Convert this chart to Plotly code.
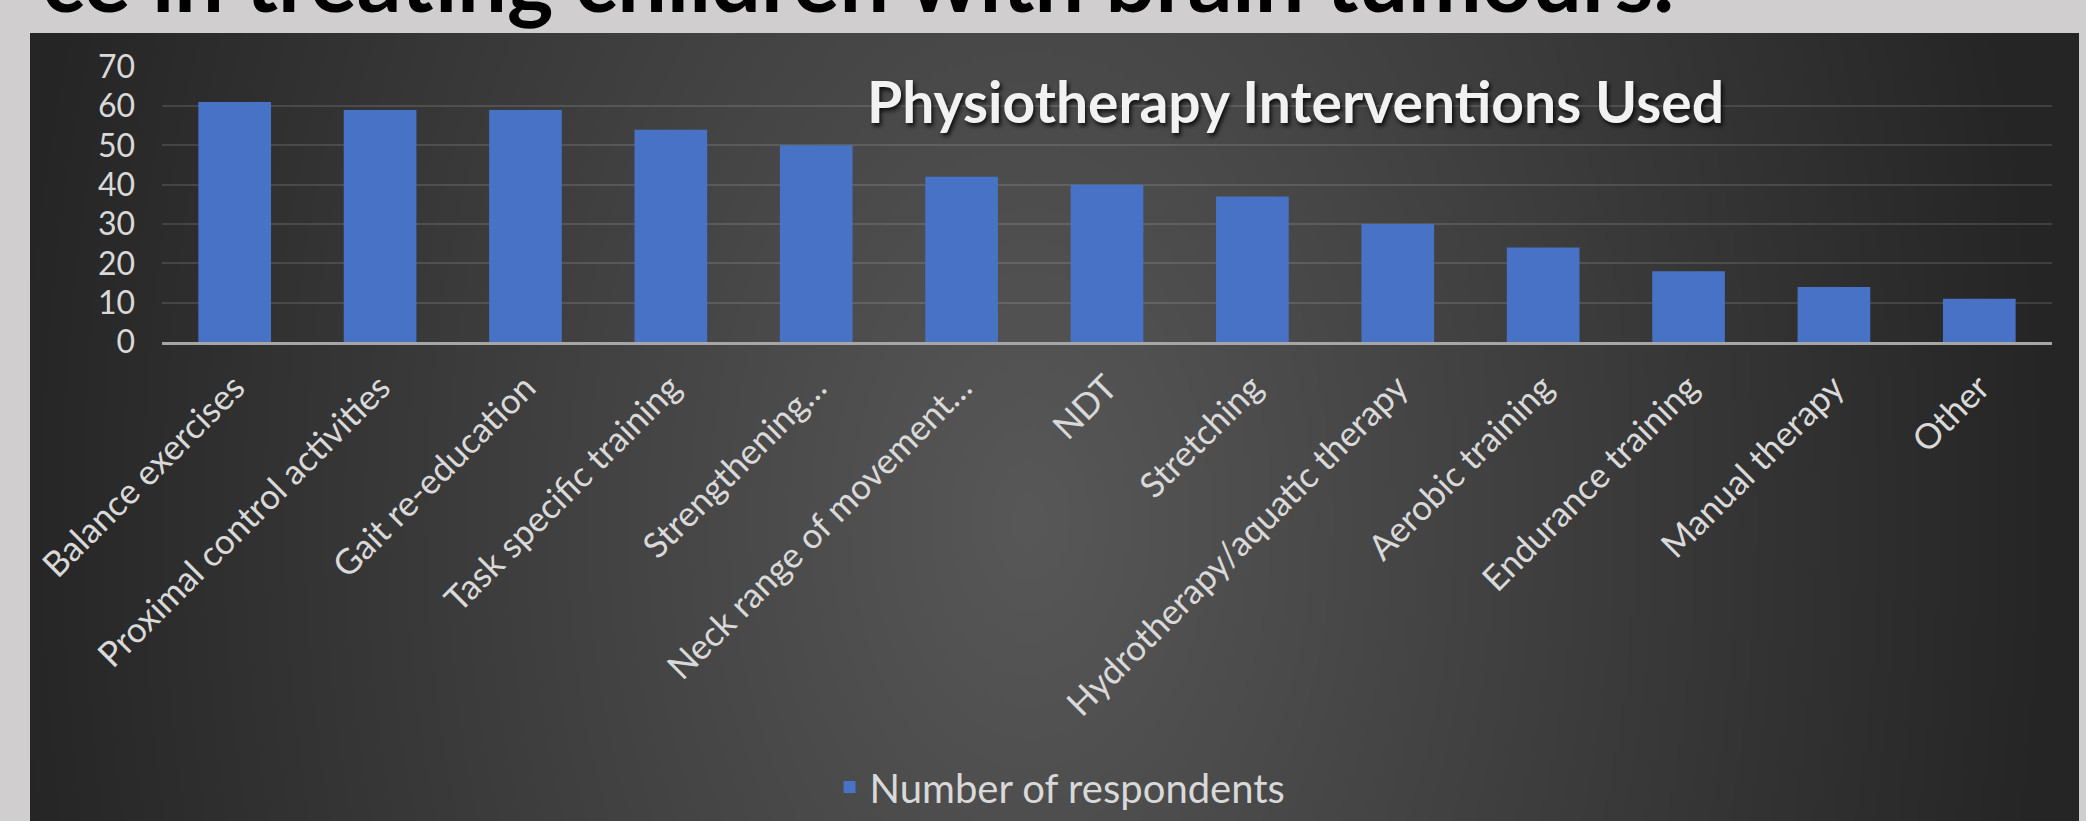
import base64
import struct
import zlib

import numpy as np
import plotly.graph_objects as go

# ---------------- data ----------------
categories = [
    "Balance exercises",
    "Proximal control activities",
    "Gait re-education",
    "Task specific training",
    "Strengthening…",
    "Neck range of movement…",
    "NDT",
    "Stretching",
    "Hydrotherapy/aquatic therapy",
    "Aerobic training",
    "Endurance training",
    "Manual therapy",
    "Other",
]
respondents = [61, 59, 59, 54, 50, 42, 40, 37, 30, 24, 18, 14, 11]
series_name = "Number of respondents"
chart_title = "Physiotherapy Interventions Used"
slide_title = "ce in treating children with brain tumours."
y_ticks = [0, 10, 20, 30, 40, 50, 60, 70]

# ---------------- geometry helpers ----------------
W, H = 2086, 821


def fx(px):
    return px / W


def fy(py):
    return 1 - py / H


# panel (dark chart area) in pixels
PX0, PX1, PY0, PY1 = 30, 2079, 33, 821


def png_gradient(w, h):
    """Radial dark-gray background, returned as a PNG data URI."""
    xs = PX0 + (np.arange(w) + 0.5) * (PX1 - PX0) / w
    ys = PY0 + (np.arange(h) + 0.5) * (PY1 - PY0) / h
    X, Y = np.meshgrid(xs, ys)
    cx, cy, a, b = 1030.0, 520.0, 1030.0, 1600.0
    t = np.sqrt(((X - cx) / a) ** 2 + ((Y - cy) / b) ** 2)
    t = np.clip(t, 0, 1)
    c0, c1 = 88.0, 37.0
    v = (c0 + (c1 - c0) * t).astype(np.uint8)
    raw = b"".join(b"\x00" + row.tobytes() for row in v)

    def chunk(tag, data):
        c = struct.pack(">I", len(data)) + tag + data
        return c + struct.pack(">I", zlib.crc32(tag + data) & 0xFFFFFFFF)

    png = b"\x89PNG\r\n\x1a\n"
    png += chunk(b"IHDR", struct.pack(">IIBBBBB", w, h, 8, 0, 0, 0, 0))
    png += chunk(b"IDAT", zlib.compress(raw, 9))
    png += chunk(b"IEND", b"")
    return "data:image/png;base64," + base64.b64encode(png).decode()


bg_uri = png_gradient(512, 197)

# ---------------- figure ----------------
fig = go.Figure()
fig.add_trace(
    go.Bar(
        x=categories,
        y=respondents,
        name=series_name,
        marker=dict(color="#4772c6", line=dict(width=0)),
        showlegend=True,
    )
)

fig.update_layout(
    template="none",
    width=W,
    height=H,
    margin=dict(l=0, r=0, t=0, b=0),
    paper_bgcolor="#d0cece",
    plot_bgcolor="rgba(0,0,0,0)",
    font=dict(family="Lato", color="#d9d9d9"),
    bargap=0.5,
    showlegend=True,
    legend=dict(
        x=fx(1060),
        y=fy(787),
        xanchor="center",
        yanchor="middle",
        orientation="h",
        bgcolor="rgba(0,0,0,0)",
        font=dict(family="Lato", size=40, color="#d9d9d9"),
    ),
    xaxis=dict(
        domain=[fx(162), fx(2052)],
        tickangle=-45,
        tickfont=dict(family="Lato", size=35, color="#d9d9d9"),
        showgrid=False,
        showline=True,
        linecolor="#a6a6a6",
        linewidth=3,
        ticks="",
        zeroline=False,
        automargin=False,
        ticklabelstandoff=8,
    ),
    yaxis=dict(
        domain=[fy(342), fy(66.7)],
        range=[0, 70],
        tickvals=y_ticks,
        tickfont=dict(family="Lato", size=32, color="#d9d9d9"),
        showgrid=True,
        gridcolor="rgba(255,255,255,0.12)",
        gridwidth=2,
        zeroline=False,
        showline=False,
        ticks="",
        automargin=False,
        ticklabelstandoff=26,
    ),
    images=[
        dict(
            source=bg_uri,
            xref="paper",
            yref="paper",
            x=fx(PX0),
            y=fy(PY0),
            sizex=fx(PX1) - fx(PX0),
            sizey=fy(PY0) - fy(PY1),
            xanchor="left",
            yanchor="top",
            sizing="stretch",
            layer="below",
        )
    ],
    annotations=[
        dict(
            text=chart_title,
            xref="paper",
            yref="paper",
            x=fx(1295),
            y=fy(101),
            xanchor="center",
            yanchor="middle",
            showarrow=False,
            font=dict(
                family="Lato",
                size=57,
                color="#f2f2f2",
                weight="bold",
                shadow="2px 3px 4px rgba(0,0,0,0.8)",
            ),
        ),
        dict(
            text=slide_title,
            xref="paper",
            yref="paper",
            x=fx(1676),
            y=fy(-22),
            xanchor="right",
            yanchor="middle",
            showarrow=False,
            font=dict(family="Lato", size=88, color="#000000", weight="bold"),
        ),
    ],
)

fig.write_html(
    "out.html",
    config={"displayModeBar": False},
    post_script="document.body.style.margin='0';document.body.style.background='#d0cece';",
)
